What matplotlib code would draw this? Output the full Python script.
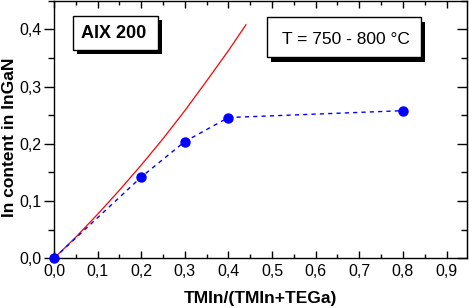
import matplotlib
matplotlib.use("Agg")
import matplotlib.pyplot as plt
from matplotlib.patches import Rectangle
from matplotlib.ticker import MultipleLocator, FixedLocator

plt.rcParams['font.family'] = ['Liberation Sans', 'DejaVu Sans']

# data
ratio = [0.0, 0.2, 0.3, 0.4, 0.8]
in_content = [0.0, 0.142, 0.204, 0.246, 0.258]

curve_x = [0.0, 0.05, 0.10, 0.15, 0.20, 0.25, 0.30, 0.35, 0.40, 0.44]
curve_y = [0.0, 0.037, 0.077, 0.119, 0.163, 0.209, 0.258, 0.310, 0.363, 0.408]

xticks = [0.0, 0.1, 0.2, 0.3, 0.4, 0.5, 0.6, 0.7, 0.8, 0.9]
xticklabels = ['0,0', '0,1', '0,2', '0,3', '0,4', '0,5', '0,6', '0,7', '0,8', '0,9']
yticks = [0.0, 0.1, 0.2, 0.3, 0.4]
yticklabels = ['0,0', '0,1', '0,2', '0,3', '0,4']

W, H = 469, 308
fig = plt.figure(figsize=(W/100, H/100), dpi=100)
ax = fig.add_axes([54/W, (H-258.3)/H, (467-54)/W, (258.3-0.8)/H])

ax.plot(curve_x, curve_y, color='red', lw=0.9, zorder=2)
ax.plot(ratio, in_content, color='blue', lw=1.0, ls=(0, (3, 3)), marker='o',
        markersize=6.5, markerfacecolor='blue', markeredgecolor='blue', zorder=3,
        clip_on=False)

ax.set_xlim(0, 0.947)
ax.set_ylim(0, 0.45)

ax.xaxis.set_major_locator(FixedLocator(xticks))
ax.set_xticklabels(xticklabels)
ax.yaxis.set_major_locator(FixedLocator(yticks))
ax.set_yticklabels(yticklabels)
ax.xaxis.set_minor_locator(MultipleLocator(0.05))
ax.yaxis.set_minor_locator(MultipleLocator(0.05))

for s in ax.spines.values():
    s.set_linewidth(1.0)
    s.set_color('black')

ax.tick_params(axis='x', which='major', direction='in', length=5, width=1,
               top=True, labelsize=11.5, pad=4)
ax.tick_params(axis='x', which='minor', direction='in', length=3, width=1, top=True)
ax.tick_params(axis='y', which='major', direction='out', length=7, width=1,
               labelsize=11.5, pad=2)
ax.tick_params(axis='y', which='minor', direction='out', length=4, width=1)
ax2 = ax.secondary_yaxis('right')
ax2.yaxis.set_major_locator(FixedLocator(yticks))
ax2.yaxis.set_minor_locator(MultipleLocator(0.05))
ax2.tick_params(which='major', direction='in', length=7, width=1, labelright=False)
ax2.tick_params(which='minor', direction='in', length=4, width=1, labelright=False)

ax.set_xlabel('TMIn/(TMIn+TEGa)', fontsize=12.5, fontweight='bold')
ax.xaxis.set_label_coords(0.5, -(290.5-258.3)/257.5)
ax.set_ylabel('In content in InGaN', fontsize=12.5, fontweight='bold')
ax.yaxis.set_label_coords(-(54-17)/413, (258.3-137.5)/257.5)

def draw_box(x0, y0, x1, y1, dx, dy):
    fig.patches.append(Rectangle(((x0+dx)/W, 1-(y1+dy)/H), (x1-x0)/W, (y1-y0)/H,
                                 transform=fig.transFigure, facecolor='black',
                                 edgecolor='black', lw=0, zorder=5))
    fig.patches.append(Rectangle((x0/W, 1-y1/H), (x1-x0)/W, (y1-y0)/H,
                                 transform=fig.transFigure, facecolor='white',
                                 edgecolor='black', lw=1.0, zorder=6))

draw_box(73, 16, 158, 50, 4, 4)
draw_box(267, 17, 421, 57, 4, 5)
fig.text((80+148)/2/W, 1-33/H, 'AIX 200', ha='center', va='center',
         fontsize=13, fontweight='bold', zorder=7)
fig.text((282+409)/2/W, 1-39/H, 'T = 750 - 800 °C', ha='center', va='center',
         fontsize=12.5, zorder=7)

fig.savefig('out.png', dpi=100)
